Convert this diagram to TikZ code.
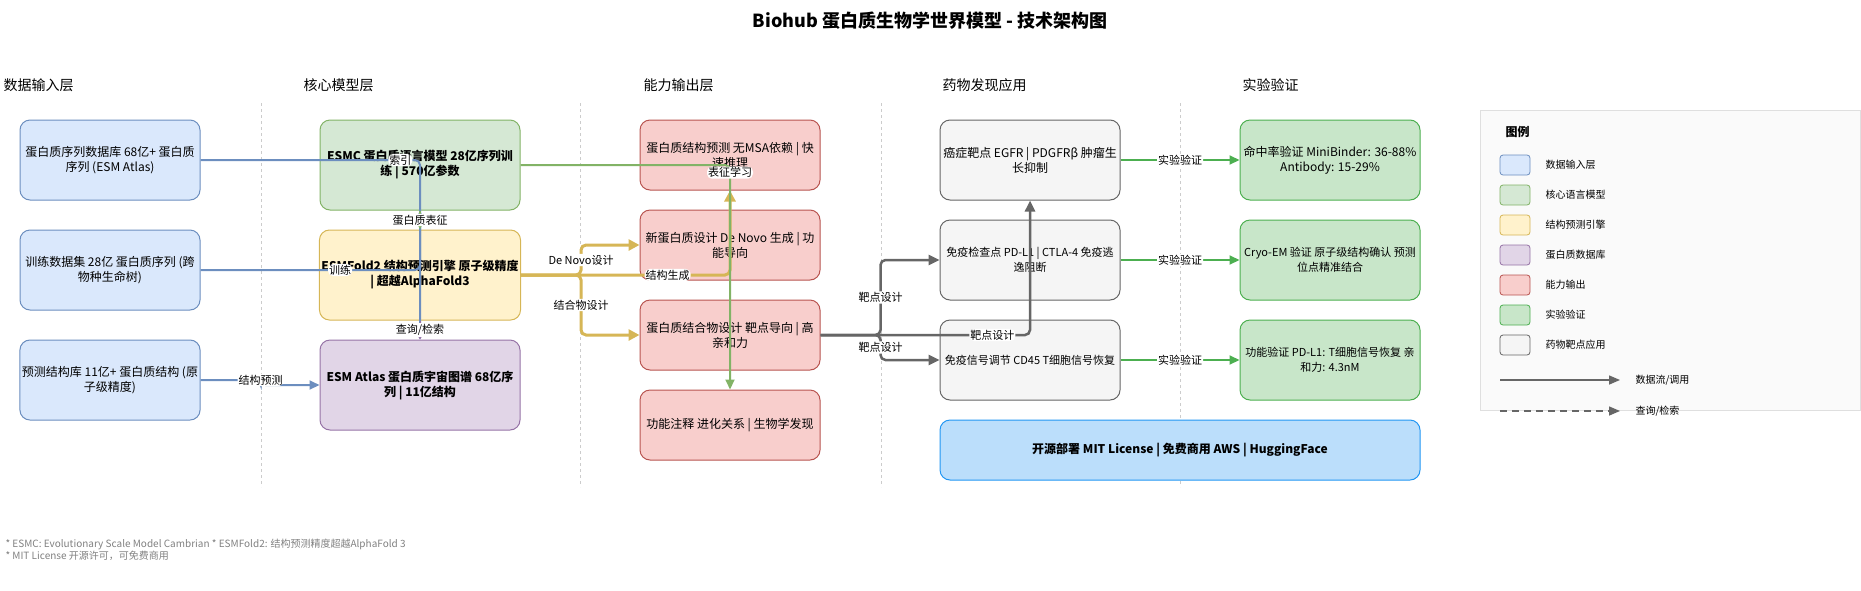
\documentclass[tikz,border=0pt]{standalone}
\usepackage{fontspec}
\setmainfont{Noto Sans CJK SC}
\usetikzlibrary{arrows.meta}

\definecolor{inFill}{HTML}{DAE8FC}   \definecolor{inLine}{HTML}{6C8EBF}
\definecolor{lmFill}{HTML}{D5E8D4}   \definecolor{lmLine}{HTML}{82B366}
\definecolor{sfFill}{HTML}{FFF2CC}   \definecolor{sfLine}{HTML}{D6B656}
\definecolor{dbFill}{HTML}{E1D5E7}   \definecolor{dbLine}{HTML}{9673A6}
\definecolor{outFill}{HTML}{F8CECC}  \definecolor{outLine}{HTML}{B85450}
\definecolor{drugFill}{HTML}{F5F5F5} \definecolor{drugLine}{HTML}{666666}
\definecolor{valFill}{HTML}{C8E6C9}  \definecolor{valLine}{HTML}{4CAF50}
\definecolor{osFill}{HTML}{BBDEFB}   \definecolor{osLine}{HTML}{2196F3}

\begin{document}
\begin{tikzpicture}[x=1pt, y=-1pt,
  every node/.style={font=\fontsize{12}{15}\selectfont},
  box/.style={draw, rounded corners=10pt, line width=1pt, align=center, inner sep=2pt},
  inbox/.style={box, fill=inFill, draw=inLine, minimum width=180pt, minimum height=80pt},
  corebox/.style={box, minimum width=200pt, minimum height=90pt, font=\fontsize{12}{15}\selectfont\bfseries},
  outbox/.style={box, fill=outFill, draw=outLine, minimum width=180pt, minimum height=70pt},
  drugbox/.style={box, fill=drugFill, draw=drugLine, minimum width=180pt, minimum height=80pt},
  valbox/.style={box, fill=valFill, draw=valLine, minimum width=180pt, minimum height=80pt},
  narrowtext/.style={font=\fontsize{11}{15}\selectfont},
  layerhead/.style={anchor=west, font=\fontsize{14}{16}\selectfont},
  elabel/.style={fill=white, inner sep=1pt, font=\fontsize{11}{13}\selectfont},
  flow/.style={rounded corners=5pt, line width=2pt, -{Triangle[length=10pt,width=9pt]}},
  keybox/.style={draw, rounded corners=3pt, minimum width=30pt, minimum height=20pt, line width=0.8pt},
  keytext/.style={anchor=west, font=\fontsize{10}{12}\selectfont},
  divider/.style={draw=gray!40, dashed, line width=0.6pt}
]
\useasboundingbox (0,0) rectangle (1861,590);

% Title and layer headings
\node (title) at (930,21) {\fontsize{18}{20}\selectfont\bfseries Biohub 蛋白质生物学世界模型 - 技术架构图};
\node[layerhead] (hIn)   at (0,85)    {数据输入层};
\node[layerhead] (hCore) at (300,85)  {核心模型层};
\node[layerhead] (hOut)  at (640,85)  {能力输出层};
\node[layerhead] (hDrug) at (939,85)  {药物发现应用};
\node[layerhead] (hVal)  at (1239,85) {实验验证};

\foreach \dx in {261,580,881,1180}
  \draw[divider] (\dx,103) -- (\dx,487);

% Data input
\node[inbox] (in1) at (110,160) {蛋白质序列数据库 68亿+ 蛋白质\\序列 (ESM Atlas)};
\node[inbox] (in2) at (110,270) {训练数据集 28亿 蛋白质序列 (跨\\物种生命树)};
\node[inbox] (in3) at (110,380) {预测结构库 11亿+ 蛋白质结构 (原\\子级精度)};

% Core models
\node[corebox, fill=lmFill, draw=lmLine] (esmc)    at (420,165) {ESMC 蛋白质语言模型 28亿序列训\\练 | 570亿参数};
\node[corebox, fill=sfFill, draw=sfLine] (esmfold) at (420,275) {ESMFold2 结构预测引擎 原子级精度\\| 超越AlphaFold3};
\node[corebox, fill=dbFill, draw=dbLine] (atlas)   at (420,385) {ESM Atlas 蛋白质宇宙图谱 68亿序\\列 | 11亿结构};

% Capability outputs
\node[outbox] (out1) at (730,155) {蛋白质结构预测 无MSA依赖 | 快\\速推理};
\node[outbox] (out2) at (730,245) {新蛋白质设计 De Novo 生成 | 功\\能导向};
\node[outbox] (out3) at (730,335) {蛋白质结合物设计 靶点导向 | 高\\亲和力};
\node[outbox] (out4) at (730,425) {功能注释 进化关系 | 生物学发现};

% Drug discovery
\node[drugbox] (drug1) at (1030,160) {癌症靶点 EGFR | PDGFRβ 肿瘤生\\长抑制};
\node[drugbox, narrowtext] (drug2) at (1030,260) {免疫检查点 PD-L1 | CTLA-4 免疫逃\\逸阻断};
\node[drugbox, narrowtext] (drug3) at (1030,360) {免疫信号调节 CD45 T细胞信号恢复};

% Validation
\node[valbox] (val1) at (1330,160) {命中率验证 MiniBinder: 36-88\%\\Antibody: 15-29\%};
\node[valbox, narrowtext] (val2) at (1330,260) {Cryo-EM 验证 原子级结构确认 预测\\位点精准结合};
\node[valbox, narrowtext] (val3) at (1330,360) {功能验证 PD-L1: T细胞信号恢复 亲\\和力: 4.3nM};

\node[box, fill=osFill, draw=osLine, minimum width=480pt, minimum height=60pt, font=\fontsize{12}{15}\selectfont\bfseries] (deploy) at (1180,450) {开源部署 MIT License | 免费商用 AWS | HuggingFace};

% Input -> core
\draw[flow, draw=inLine] (in1.east) -| node[elabel, pos=0.455] (lIdx) {索引} (atlas.north);
\draw[flow, draw=inLine] (in2.east) -| node[elabel, pos=0.318] (lTrain) {训练} (esmc.south);
\draw[flow, draw=inLine] (in3.east) -- ++(60,0) node[elabel] (lPred) {结构预测} |- (atlas.west);
\draw[flow, draw=lmLine] (esmc) -- node[elabel] (lRep) {蛋白质表征} (esmfold);
\draw[dashed, line width=1pt, draw=dbLine, -{Triangle[length=5pt,width=6pt]}] (esmfold) -- node[elabel] (lQuery) {查询/检索} (atlas);

% Core -> outputs
\draw[flow, line width=3pt, draw=sfLine, -{Triangle[length=11pt,width=11pt]}] (esmfold.east) -| node[elabel, pos=0.351] (lGen) {结构生成} (out1.south);
\draw[flow, line width=3pt, draw=sfLine, -{Triangle[length=11pt,width=11pt]}] (esmfold.east) -- ++(60,0) |- node[elabel, pos=0.25] (lDeNovo) {De Novo设计} (out2.west);
\draw[flow, line width=3pt, draw=sfLine, -{Triangle[length=11pt,width=11pt]}] (esmfold.east) -- ++(60,0) |- node[elabel, pos=0.25] (lBind) {结合物设计} (out3.west);
\draw[flow, draw=lmLine] (esmc.east) -| node[elabel, pos=0.517] (lLearn) {表征学习} (out4.north);

% Outputs -> drug targets
\draw[flow, line width=2.5pt, draw=drugLine, -{Triangle[length=11pt,width=10pt]}] (out3.east) -| node[elabel, pos=0.41] (lT1) {靶点设计} (drug1.south);
\draw[flow, line width=2.5pt, draw=drugLine, -{Triangle[length=11pt,width=10pt]}] (out3.east) -- ++(60,0) |- node[elabel, pos=0.25] (lT2) {靶点设计} (drug2.west);
\draw[flow, line width=2.5pt, draw=drugLine, -{Triangle[length=11pt,width=10pt]}] (out3.east) -- ++(60,0) |- node[elabel, pos=0.25] (lT3) {靶点设计} (drug3.west);

% Drug targets -> validation
\foreach \i in {1,2,3}
  \draw[flow, draw=valLine] (drug\i) -- node[elabel] (lVal\i) {实验验证} (val\i);

% Legend
\node[draw=gray!25, fill=gray!4, line width=0.8pt, minimum width=380pt, minimum height=300pt, anchor=north west] (legend) at (1480,110) {};
\node[anchor=west, font=\fontsize{12}{14}\selectfont\bfseries] (legTitle) at (1502,132) {图例};
\foreach \fc/\lc/\txt [count=\i] in {inFill/inLine/数据输入层, lmFill/lmLine/核心语言模型, sfFill/sfLine/结构预测引擎, dbFill/dbLine/蛋白质数据库, outFill/outLine/能力输出, valFill/valLine/实验验证, drugFill/drugLine/药物靶点应用} {
  \node[keybox, fill=\fc, draw=\lc] (key\i) at (1515,135+30*\i) {};
  \node[keytext] (keyLbl\i) at (1542,135+30*\i) {\txt};
}
\coordinate (flowA) at (1500,380);
\coordinate (flowB) at (1620,380);
\draw[line width=1.5pt, draw=drugLine, -{Triangle[length=11pt,width=9pt]}] (flowA) -- (flowB);
\node[keytext] (flowLbl) at (1632,380) {数据流/调用};
\coordinate (queryA) at (1500,411);
\coordinate (queryB) at (1620,411);
\draw[line width=1.5pt, draw=drugLine, dash pattern=on 7pt off 5pt, -{Triangle[length=11pt,width=9pt]}] (queryA) -- (queryB);
\node[keytext] (queryLbl) at (1632,411) {查询/检索};

% Footnotes
\node[anchor=west, text=gray, font=\fontsize{10}{12}\selectfont] (note1) at (2,544) {* ESMC: Evolutionary Scale Model Cambrian * ESMFold2: 结构预测精度超越AlphaFold 3};
\node[anchor=west, text=gray, font=\fontsize{10}{12}\selectfont] (note2) at (2,556) {* MIT License 开源许可，可免费商用};
\end{tikzpicture}
\end{document}
